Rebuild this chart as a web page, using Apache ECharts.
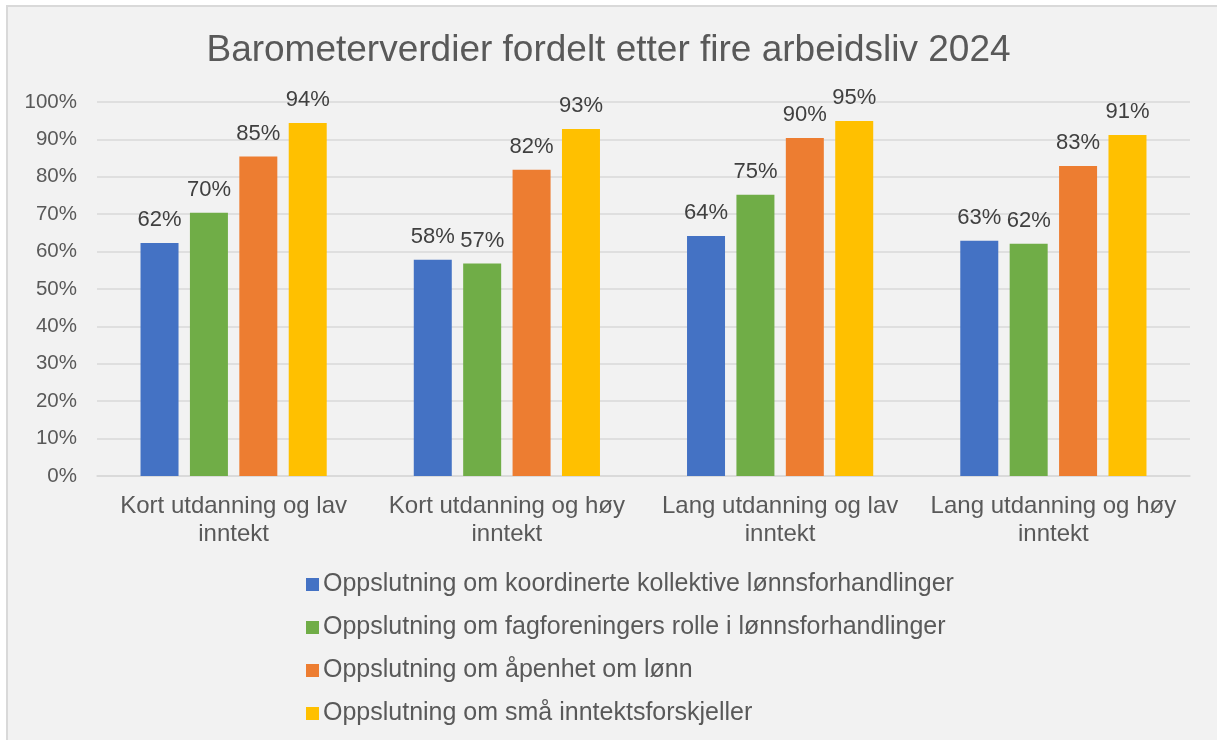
<!DOCTYPE html>
<html>
<head>
<meta charset="utf-8">
<script src="https://cdn.jsdelivr.net/npm/echarts@6/dist/echarts.min.js"></script>
<style>
    html, body { margin: 0; padding: 0; background: #fff; }
    #chart { width: 1217px; height: 740px; }
</style>
</head>
<body>
<div id="chart"></div>
<script>
// kategorier (x-akse)
const categories = [
    'Kort utdanning og lav\ninntekt',
    'Kort utdanning og høy\ninntekt',
    'Lang utdanning og lav\ninntekt',
    'Lang utdanning og høy\ninntekt'
]
// serienavn
const seriesNames = [
    'Oppslutning om koordinerte kollektive lønnsforhandlinger',
    'Oppslutning om fagforeningers rolle i lønnsforhandlinger',
    'Oppslutning om åpenhet om lønn',
    'Oppslutning om små inntektsforskjeller'
]
// verdier i prosent, lest av bildet
const koordinerte = [62.3, 57.8, 64.2, 62.9]
const fagforeninger = [70.4, 56.8, 75.2, 62.1]
const aapenhet = [85.4, 81.9, 90.4, 82.9]
const smaaForskjeller = [94.4, 92.8, 94.9, 91.2]
const yTicks = [0, 10, 20, 30, 40, 50, 60, 70, 80, 90, 100]

const colors = ['#4472C4', '#70AD47', '#ED7D31', '#FFC000']
const values = [koordinerte, fagforeninger, aapenhet, smaaForskjeller]
const font = '"Liberation Sans", Arial, sans-serif'

const chart = echarts.init(document.getElementById('chart'))
chart.setOption({
    backgroundColor: '#ffffff',
    textStyle: { fontFamily: font },
    graphic: [
        {
            type: 'rect',
            z: -10,
            silent: true,
            shape: { x: 7, y: 6, width: 1230, height: 760 },
            style: { fill: '#f2f2f2', stroke: '#d9d9d9', lineWidth: 2 }
        }
    ],
    title: {
        text: 'Barometerverdier fordelt etter fire arbeidsliv 2024',
        left: 'center',
        top: 27,
        textStyle: { fontSize: 37, fontWeight: 'normal', color: '#595959', fontFamily: font }
    },
    legend: {
        orient: 'vertical',
        left: 301,
        top: 567,
        itemWidth: 13,
        itemHeight: 13,
        itemGap: 18,
        icon: 'rect',
        textStyle: { fontSize: 25, color: '#595959', fontFamily: font, padding: [0, 0, 0, -1] },
        data: seriesNames
    },
    grid: { left: 97, right: 27, top: 102, bottom: 264 },
    xAxis: {
        type: 'category',
        data: categories,
        axisTick: { show: false },
        axisLine: { lineStyle: { color: '#d9d9d9', width: 1.5 } },
        axisLabel: { fontSize: 24, color: '#595959', lineHeight: 28, margin: 16, interval: 0 }
    },
    yAxis: {
        type: 'value',
        min: yTicks[0],
        max: yTicks[yTicks.length - 1],
        interval: 10,
        axisLine: { show: false },
        axisTick: { show: false },
        splitLine: { lineStyle: { color: '#d9d9d9', width: 1.5 } },
        axisLabel: { fontSize: 20.5, color: '#595959', margin: 20, formatter: v => v + '%' }
    },
    series: seriesNames.map((name, i) => ({
        name: name,
        type: 'bar',
        data: values[i],
        barWidth: 38,
        barGap: '30%',
        itemStyle: { color: colors[i] },
        label: {
            show: true,
            position: 'top',
            distance: 12,
            fontSize: 22,
            color: '#404040',
            formatter: p => Math.round(p.value) + '%'
        }
    }))
})
</script>
</body>
</html>
